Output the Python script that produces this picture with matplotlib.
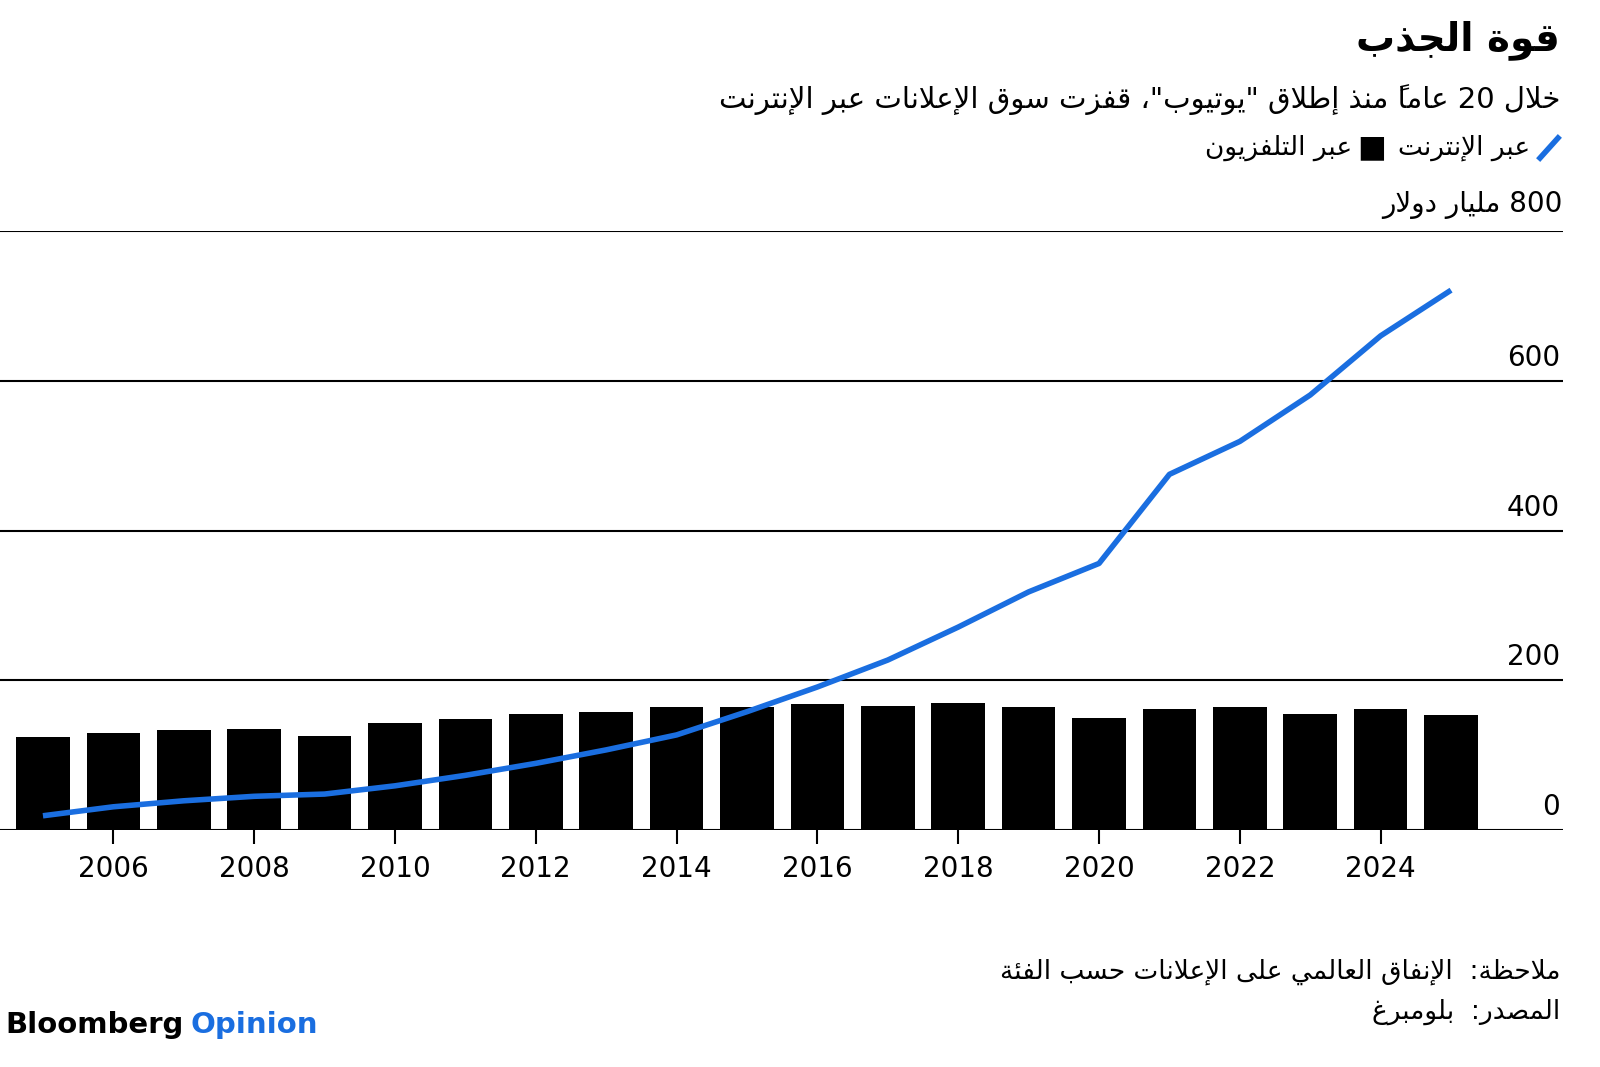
import matplotlib
matplotlib.use("Agg")
import matplotlib.pyplot as plt
from matplotlib.lines import Line2D

years = list(range(2005, 2026))
tv = [124,130,134,135,125,143,148,155,158,164,164,168,166,170,164,150,162,164,155,162,154]
internet = [19,31,39,45,48,59,73,89,107,127,158,191,227,271,318,356,475,519,581,660,721]
xticks = [2006,2008,2010,2012,2014,2016,2018,2020,2022,2024]
yticks = [0,200,400,600,800]

# --- minimal Arabic shaping ---
F = {'ء':(0xFE80,),'آ':(0xFE81,0xFE82),'أ':(0xFE83,0xFE84),'ؤ':(0xFE85,0xFE86),'إ':(0xFE87,0xFE88),
     'ئ':(0xFE89,0xFE8A,0xFE8B,0xFE8C),'ا':(0xFE8D,0xFE8E),'ب':(0xFE8F,0xFE90,0xFE91,0xFE92),
     'ة':(0xFE93,0xFE94),'ت':(0xFE95,0xFE96,0xFE97,0xFE98),'ث':(0xFE99,0xFE9A,0xFE9B,0xFE9C),
     'ج':(0xFE9D,0xFE9E,0xFE9F,0xFEA0),'ح':(0xFEA1,0xFEA2,0xFEA3,0xFEA4),'خ':(0xFEA5,0xFEA6,0xFEA7,0xFEA8),
     'د':(0xFEA9,0xFEAA),'ذ':(0xFEAB,0xFEAC),'ر':(0xFEAD,0xFEAE),'ز':(0xFEAF,0xFEB0),
     'س':(0xFEB1,0xFEB2,0xFEB3,0xFEB4),'ش':(0xFEB5,0xFEB6,0xFEB7,0xFEB8),'ص':(0xFEB9,0xFEBA,0xFEBB,0xFEBC),
     'ض':(0xFEBD,0xFEBE,0xFEBF,0xFEC0),'ط':(0xFEC1,0xFEC2,0xFEC3,0xFEC4),'ظ':(0xFEC5,0xFEC6,0xFEC7,0xFEC8),
     'ع':(0xFEC9,0xFECA,0xFECB,0xFECC),'غ':(0xFECD,0xFECE,0xFECF,0xFED0),'ف':(0xFED1,0xFED2,0xFED3,0xFED4),
     'ق':(0xFED5,0xFED6,0xFED7,0xFED8),'ك':(0xFED9,0xFEDA,0xFEDB,0xFEDC),'ل':(0xFEDD,0xFEDE,0xFEDF,0xFEE0),
     'م':(0xFEE1,0xFEE2,0xFEE3,0xFEE4),'ن':(0xFEE5,0xFEE6,0xFEE7,0xFEE8),'ه':(0xFEE9,0xFEEA,0xFEEB,0xFEEC),
     'و':(0xFEED,0xFEEE),'ى':(0xFEEF,0xFEF0),'ي':(0xFEF1,0xFEF2,0xFEF3,0xFEF4)}
LA = {'آ':(0xFEF5,0xFEF6),'أ':(0xFEF7,0xFEF8),'إ':(0xFEF9,0xFEFA),'ا':(0xFEFB,0xFEFC)}
TR = set('\u064b\u064c\u064d\u064e\u064f\u0650\u0651\u0652')

def shape(s):
    units = []
    i = 0
    while i < len(s):
        c = s[i]
        if c in TR and units:
            units[-1][1] += c; i += 1; continue
        if c == 'ل' and i+1 < len(s) and s[i+1] in LA:
            units.append([('LA', s[i+1]), '', LA[s[i+1]]]); i += 2; continue
        units.append([c, '', F.get(c)]); i += 1
    out = []
    for k, (b, m, f) in enumerate(units):
        if f is None:
            out.append(b + m); continue
        prev = units[k-1][2] if k > 0 else None
        nxt = units[k+1][2] if k+1 < len(units) else None
        jp = prev is not None and len(prev) == 4
        jn = len(f) == 4 and nxt is not None and len(nxt) >= 2
        if jp and jn: g = f[3]
        elif jn: g = f[2]
        elif jp and len(f) >= 2: g = f[1]
        else: g = f[0]
        out.append(chr(g) + m)
    return ''.join(out)

def ar(s):
    s = shape(s)
    runs, cur, curl = [], '', None
    for c in s:
        l = c.isascii() and (c.isalnum() or c in '.,%')
        if curl is None or l == curl: cur += c
        else: runs.append((cur, curl)); cur = c
        curl = l
    runs.append((cur, curl))
    return ''.join(r if l else r[::-1] for r, l in reversed(runs))

plt.rcParams['font.family'] = ['DejaVu Sans']
fig = plt.figure(figsize=(16, 10.67), dpi=100)
ax = fig.add_axes([0, 1-830/1067, 1563/1600, (830-231)/1067])
ax.bar(years, tv, width=0.76, color='black', zorder=2)
ax.plot(years, internet, color='#1a6ee0', lw=4, zorder=3, solid_capstyle='butt')
ax.set_xlim(2004.39, 2026.59)
ax.set_ylim(0, 800)
for sp in ax.spines.values(): sp.set_visible(False)
for y in yticks:
    ax.axhline(y, color='black', lw=1.5, zorder=1)
    if y != 800:
        ax.text(2026.55, y+12, str(y), ha='right', va='bottom', fontsize=20)
ax.set_yticks([])
ax.set_xticks(xticks)
ax.set_xticklabels([str(x) for x in xticks], fontsize=20)
ax.tick_params(axis='x', length=10, width=1.5, pad=8)

fig.text(1560/1600, 1-40/1067, ar('قوة الجذب'), ha='right', va='center', fontsize=28, fontweight='bold')
fig.text(1560/1600, 1-100/1067, ar('خلال 20 عاماً منذ إطلاق "يوتيوب"، قفزت سوق الإعلانات عبر الإنترنت'), ha='right', va='center', fontsize=21)
fig.add_artist(Line2D([1540/1600, 1558/1600], [1-158/1067, 1-138/1067], color='#1a6ee0', lw=4))
fig.text(1530/1600, 1-148/1067, ar('عبر الإنترنت'), ha='right', va='center', fontsize=19)
fig.text(1386/1600, 1-148/1067, '■', ha='right', va='center', fontsize=22)
fig.text(1352/1600, 1-148/1067, ar('عبر التلفزيون'), ha='right', va='center', fontsize=19)
fig.text(1563/1600, 1-205/1067, ar('800 مليار دولار'), ha='right', va='center', fontsize=20)
fig.text(1560/1600, 1-972/1067, ar('ملاحظة:  الإنفاق العالمي على الإعلانات حسب الفئة'), ha='right', va='center', fontsize=19)
fig.text(1560/1600, 1-1012/1067, ar('المصدر:  بلومبرغ'), ha='right', va='center', fontsize=19)
fig.text(5/1600, 1-1025/1067, 'Bloomberg', ha='left', va='center', fontsize=21, fontweight='bold')
fig.text(190/1600, 1-1025/1067, 'Opinion', ha='left', va='center', fontsize=21, fontweight='bold', color='#1a6ee0')
fig.savefig('out.png', dpi=100)
